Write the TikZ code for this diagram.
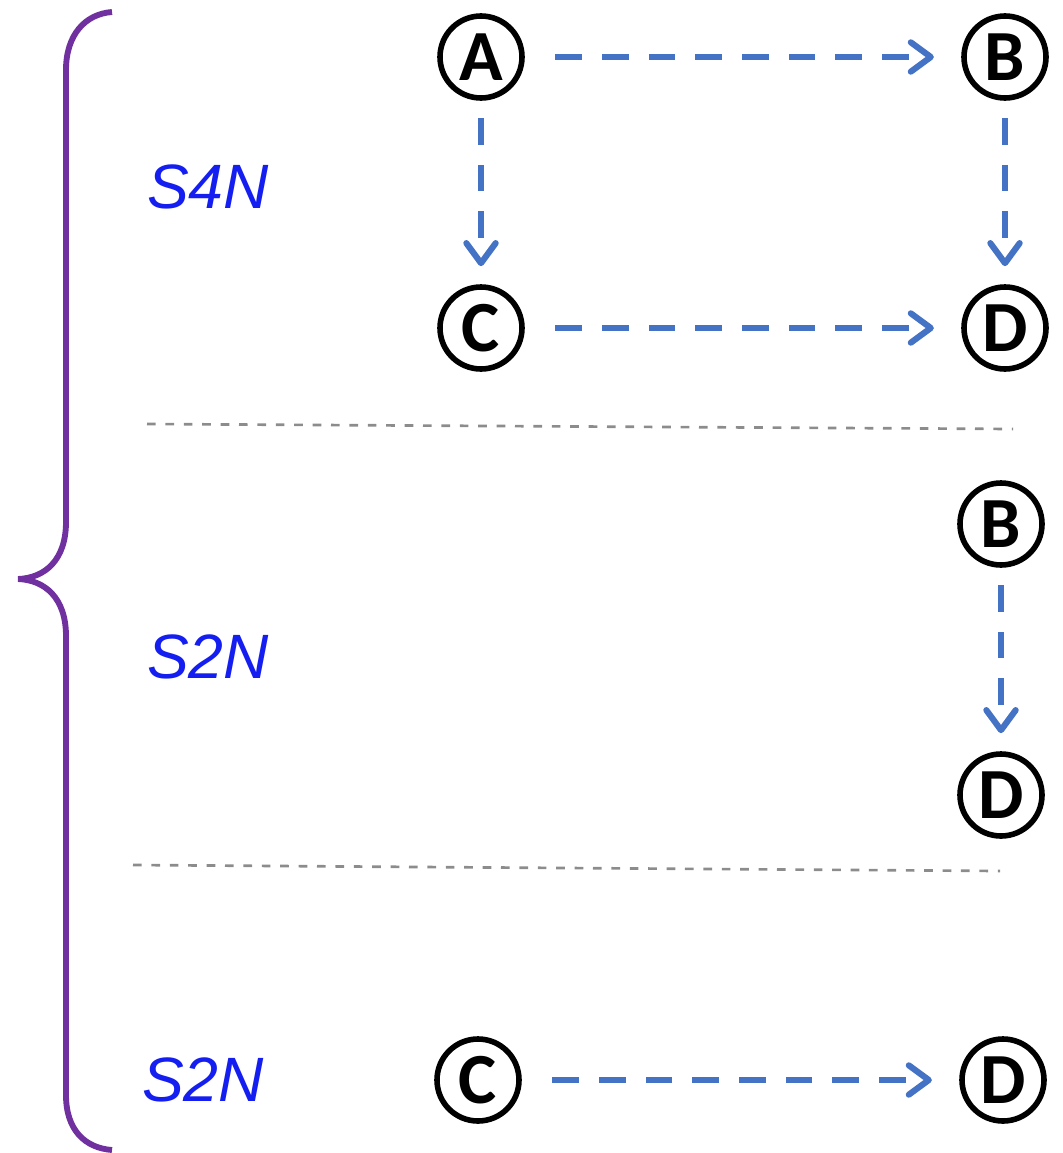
\documentclass[tikz,border=0pt]{standalone}
\usepackage{fontspec}
\newfontfamily\letterfont{Carlito}
\newfontfamily\labelfont{Liberation Sans}
\usetikzlibrary{arrows.meta}
\definecolor{flowblue}{HTML}{4472C4}
\definecolor{bracepurple}{HTML}{7030A0}
\definecolor{labelblue}{RGB}{20,30,240}
\definecolor{sepgray}{HTML}{8C8C8C}
\tikzstyle{state}=[draw=black,circle,line width=4.2pt,minimum size=61.5pt,inner sep=0pt,font=\letterfont\fontsize{54}{54}\selectfont\bfseries]
\tikzstyle{flow}=[draw=flowblue,line width=4.6pt,dash pattern=on 20pt off 15pt,-{Straight Barb[length=15pt,width=22pt,line cap=round,line join=round]}]
\tikzstyle{sep}=[draw=sepgray,line width=2pt,dash pattern=on 6.5pt off 7.3pt]
\tikzstyle{setlabel}=[text=labelblue,font=\labelfont\fontsize{47}{47}\selectfont\itshape]

\begin{document}
\begin{tikzpicture}[x=0.75pt,y=-0.75pt]

      % page frame, in pixel units
      \useasboundingbox (0,0) rectangle (1063,1153);

      % first block: four states
      \node[state] at (481,57) (a1) {A};
      \node[state] at (1005,57) (b1) {B};
      \node[state] at (481,328) (c1) {C};
      \node[state] at (1005,328) (d1) {D};
      % second block
      \node[state] at (1001,524) (b2) {B};
      \node[state] at (1001,795) (d2) {D};
      % third block
      \node[state] at (478,1080) (c3) {C};
      \node[state] at (1003,1080) (d3) {D};

      % transitions
      \draw[flow,shorten <=23pt,shorten >=20.5pt] (a1) -- (b1);
      \draw[flow,shorten <=13pt,shorten >=13.5pt] (a1) -- (c1);
      \draw[flow,shorten <=13pt,shorten >=13.5pt] (b1) -- (d1);
      \draw[flow,shorten <=23pt,shorten >=20.5pt] (c1) -- (d1);
      \draw[flow,shorten <=13pt,shorten >=13.5pt] (b2) -- (d2);
      \draw[flow,shorten <=23pt,shorten >=20.5pt] (c3) -- (d3);

      % separators between blocks
      \coordinate (s1l) at (147,424);
      \coordinate (s1r) at (1013,429);
      \coordinate (s2l) at (133,865);
      \coordinate (s2r) at (1000,871);
      \draw[sep] (s1l) -- (s1r);
      \draw[sep] (s2l) -- (s2r);

      % block labels
      \node[setlabel] at (208,187) (l1) {S4N};
      \node[setlabel] at (208,657) (l2) {S2N};
      \node[setlabel] at (203,1080) (l3) {S2N};

      % left brace over all blocks
      \draw[bracepurple,line width=4.4pt]
        (112,12) .. controls (85,14) and (66,35) .. (66,70)
        -- (66,522) .. controls (66,560) and (45,578) .. (18,579)
        .. controls (45,580) and (66,598) .. (66,636)
        -- (66,1095) .. controls (66,1130) and (85,1148) .. (112,1150);

\end{tikzpicture}
\end{document}
